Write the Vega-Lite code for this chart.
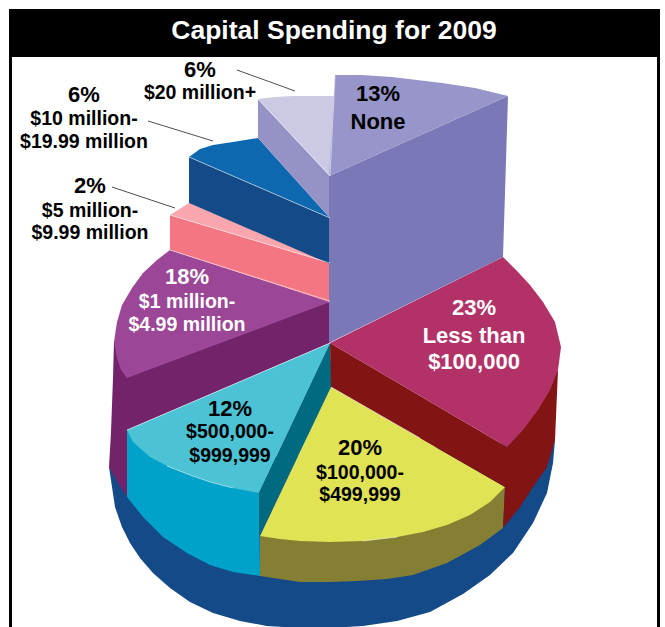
{
  "$schema": "https://vega.github.io/schema/vega-lite/v6.json",
  "width": 665,
  "height": 627,
  "autosize": {"type": "fit", "contains": "padding"},
  "padding": 0,
  "background": "#ffffff",
  "view": {"stroke": null},
  "resolve": {"scale": {"color": "independent"}},
  "datasets": {
    "frame": [
      {"part": "title bar", "x": 9, "x2": 660, "y": 9, "y2": 57},
      {"part": "left rule", "x": 9, "x2": 12, "y": 57, "y2": 627},
      {"part": "right rule", "x": 657, "x2": 660, "y": 57, "y2": 627}
    ],
    "outlines": [
      {"face":"base","i":0,"x":109,"y":467},{"face":"base","i":1,"x":112,"y":487},{"face":"base","i":2,"x":115,"y":507},{"face":"base","i":3,"x":122,"y":527},{"face":"base","i":4,"x":130,"y":543},{"face":"base","i":5,"x":140,"y":558},{"face":"base","i":6,"x":153,"y":573},{"face":"base","i":7,"x":170,"y":588},{"face":"base","i":8,"x":190,"y":602},{"face":"base","i":9,"x":213,"y":613},{"face":"base","i":10,"x":240,"y":621},{"face":"base","i":11,"x":267,"y":626},{"face":"base","i":12,"x":300,"y":628},{"face":"base","i":13,"x":330,"y":628},{"face":"base","i":14,"x":363,"y":626},{"face":"base","i":15,"x":397,"y":621},{"face":"base","i":16,"x":430,"y":612},{"face":"base","i":17,"x":463,"y":594},{"face":"base","i":18,"x":490,"y":575},{"face":"base","i":19,"x":513,"y":553},{"face":"base","i":20,"x":533,"y":523},{"face":"base","i":21,"x":547,"y":493},{"face":"base","i":22,"x":553,"y":463},{"face":"base","i":23,"x":555,"y":440},

      {"face":"purple side","i":0,"x":330,"y":302},{"face":"purple side","i":1,"x":114,"y":342},{"face":"purple side","i":2,"x":113,"y":378},{"face":"purple side","i":3,"x":111,"y":432},{"face":"purple side","i":4,"x":109,"y":467},{"face":"purple side","i":5,"x":118,"y":483},{"face":"purple side","i":6,"x":127,"y":497},{"face":"purple side","i":7,"x":127,"y":430},{"face":"purple side","i":8,"x":330,"y":343},
      {"face":"purple top","i":0,"x":170,"y":250},{"face":"purple top","i":1,"x":157,"y":260},{"face":"purple top","i":2,"x":143,"y":273},{"face":"purple top","i":3,"x":132,"y":288},{"face":"purple top","i":4,"x":122,"y":305},{"face":"purple top","i":5,"x":117,"y":322},{"face":"purple top","i":6,"x":114,"y":342},{"face":"purple top","i":7,"x":117,"y":358},{"face":"purple top","i":8,"x":121,"y":370},{"face":"purple top","i":9,"x":127,"y":378},{"face":"purple top","i":10,"x":330,"y":302},

      {"face":"cyan front","i":0,"x":127,"y":430},{"face":"cyan front","i":1,"x":259,"y":493},{"face":"cyan front","i":2,"x":260,"y":576},{"face":"cyan front","i":3,"x":233,"y":572},{"face":"cyan front","i":4,"x":210,"y":565},{"face":"cyan front","i":5,"x":187,"y":553},{"face":"cyan front","i":6,"x":163,"y":537},{"face":"cyan front","i":7,"x":143,"y":517},{"face":"cyan front","i":8,"x":127,"y":497},
      {"face":"cyan top","i":0,"x":127,"y":430},{"face":"cyan top","i":1,"x":330,"y":343},{"face":"cyan top","i":2,"x":259,"y":493},{"face":"cyan top","i":3,"x":233,"y":488},{"face":"cyan top","i":4,"x":210,"y":482},{"face":"cyan top","i":5,"x":190,"y":475},{"face":"cyan top","i":6,"x":167,"y":466},{"face":"cyan top","i":7,"x":150,"y":457},{"face":"cyan top","i":8,"x":133,"y":442},
      {"face":"teal side","i":0,"x":330,"y":343},{"face":"teal side","i":1,"x":259,"y":493},{"face":"teal side","i":2,"x":259,"y":536},{"face":"teal side","i":3,"x":332,"y":387},

      {"face":"olive side","i":0,"x":260,"y":536},{"face":"olive side","i":1,"x":505,"y":487},{"face":"olive side","i":2,"x":503,"y":528},{"face":"olive side","i":3,"x":480,"y":545},{"face":"olive side","i":4,"x":447,"y":563},{"face":"olive side","i":5,"x":413,"y":575},{"face":"olive side","i":6,"x":387,"y":579},{"face":"olive side","i":7,"x":357,"y":581},{"face":"olive side","i":8,"x":330,"y":582},{"face":"olive side","i":9,"x":300,"y":582},{"face":"olive side","i":10,"x":280,"y":579},{"face":"olive side","i":11,"x":260,"y":576},
      {"face":"yellow top","i":0,"x":331,"y":387},{"face":"yellow top","i":1,"x":505,"y":487},{"face":"yellow top","i":2,"x":490,"y":502},{"face":"yellow top","i":3,"x":470,"y":515},{"face":"yellow top","i":4,"x":447,"y":525},{"face":"yellow top","i":5,"x":423,"y":532},{"face":"yellow top","i":6,"x":397,"y":537},{"face":"yellow top","i":7,"x":363,"y":541},{"face":"yellow top","i":8,"x":330,"y":542},{"face":"yellow top","i":9,"x":300,"y":541},{"face":"yellow top","i":10,"x":280,"y":539},{"face":"yellow top","i":11,"x":260,"y":536},

      {"face":"crimson side","i":0,"x":330,"y":343},{"face":"crimson side","i":1,"x":507,"y":447},{"face":"crimson side","i":2,"x":558,"y":370},{"face":"crimson side","i":3,"x":555,"y":440},{"face":"crimson side","i":4,"x":547,"y":467},{"face":"crimson side","i":5,"x":533,"y":487},{"face":"crimson side","i":6,"x":520,"y":507},{"face":"crimson side","i":7,"x":503,"y":528},{"face":"crimson side","i":8,"x":505,"y":487},{"face":"crimson side","i":9,"x":331,"y":387},
      {"face":"crimson top","i":0,"x":330,"y":343},{"face":"crimson top","i":1,"x":503,"y":257},{"face":"crimson top","i":2,"x":517,"y":271},{"face":"crimson top","i":3,"x":530,"y":285},{"face":"crimson top","i":4,"x":543,"y":302},{"face":"crimson top","i":5,"x":555,"y":322},{"face":"crimson top","i":6,"x":561,"y":347},{"face":"crimson top","i":7,"x":558,"y":370},{"face":"crimson top","i":8,"x":550,"y":390},{"face":"crimson top","i":9,"x":538,"y":410},{"face":"crimson top","i":10,"x":523,"y":430},{"face":"crimson top","i":11,"x":507,"y":447},

      {"face":"pink side","i":0,"x":170,"y":215},{"face":"pink side","i":1,"x":330,"y":263},{"face":"pink side","i":2,"x":330,"y":302},{"face":"pink side","i":3,"x":170,"y":250},
      {"face":"pink top","i":0,"x":189,"y":203},{"face":"pink top","i":1,"x":170,"y":215},{"face":"pink top","i":2,"x":330,"y":263},

      {"face":"navy side","i":0,"x":189,"y":157},{"face":"navy side","i":1,"x":330,"y":218},{"face":"navy side","i":2,"x":330,"y":264},{"face":"navy side","i":3,"x":189,"y":203},
      {"face":"blue top","i":0,"x":258,"y":138},{"face":"blue top","i":1,"x":233,"y":142},{"face":"blue top","i":2,"x":213,"y":145},{"face":"blue top","i":3,"x":200,"y":149},{"face":"blue top","i":4,"x":189,"y":157},{"face":"blue top","i":5,"x":330,"y":218},

      {"face":"lilac side","i":0,"x":258,"y":99},{"face":"lilac side","i":1,"x":330,"y":176},{"face":"lilac side","i":2,"x":330,"y":218},{"face":"lilac side","i":3,"x":258,"y":138},
      {"face":"lilac top","i":0,"x":258,"y":99},{"face":"lilac top","i":1,"x":275,"y":97},{"face":"lilac top","i":2,"x":293,"y":96},{"face":"lilac top","i":3,"x":336,"y":96},{"face":"lilac top","i":4,"x":330,"y":176},

      {"face":"periwinkle side","i":0,"x":508,"y":96},{"face":"periwinkle side","i":1,"x":329,"y":176},{"face":"periwinkle side","i":2,"x":329,"y":343},{"face":"periwinkle side","i":3,"x":503,"y":257},
      {"face":"periwinkle top","i":0,"x":335,"y":75},{"face":"periwinkle top","i":1,"x":362,"y":75},{"face":"periwinkle top","i":2,"x":392,"y":77},{"face":"periwinkle top","i":3,"x":417,"y":80},{"face":"periwinkle top","i":4,"x":442,"y":83},{"face":"periwinkle top","i":5,"x":475,"y":88},{"face":"periwinkle top","i":6,"x":508,"y":96},{"face":"periwinkle top","i":7,"x":329,"y":176}
    ],
    "bevels": [
      {"edge":"pink rim","i":0,"x":170,"y":215},{"edge":"pink rim","i":1,"x":330,"y":263},
      {"edge":"pink foot","i":0,"x":170,"y":250},{"edge":"pink foot","i":1,"x":330,"y":301},
      {"edge":"navy rim","i":0,"x":189,"y":157},{"edge":"navy rim","i":1,"x":330,"y":218},
      {"edge":"lilac rim","i":0,"x":258,"y":99},{"edge":"lilac rim","i":1,"x":330,"y":176},
      {"edge":"lilac seam","i":0,"x":335,"y":76},{"edge":"lilac seam","i":1,"x":330,"y":176},
      {"edge":"cyan seam","i":0,"x":127,"y":430},{"edge":"cyan seam","i":1,"x":330,"y":343},
      {"edge":"cyan rim","i":0,"x":167,"y":466},{"edge":"cyan rim","i":1,"x":190,"y":475},{"edge":"cyan rim","i":2,"x":210,"y":482},{"edge":"cyan rim","i":3,"x":233,"y":488},
      {"edge":"yellow rim","i":0,"x":363,"y":541},{"edge":"yellow rim","i":1,"x":397,"y":537},
      {"edge":"yellow seam","i":0,"x":331,"y":387},{"edge":"yellow seam","i":1,"x":420,"y":438}
    ],
    "leaders": [
      {"slice":"$20 million+","i":0,"x":237,"y":70},{"slice":"$20 million+","i":1,"x":295,"y":91},
      {"slice":"$10 million-$19.99 million","i":0,"x":148,"y":121},{"slice":"$10 million-$19.99 million","i":1,"x":213,"y":141},
      {"slice":"$5 million-$9.99 million","i":0,"x":112,"y":187},{"slice":"$5 million-$9.99 million","i":1,"x":175,"y":208}
    ],
    "shares": [
      {"share":0.06,"x":200,"y":70,"tone":"dark"},
      {"share":0.06,"x":84,"y":95,"tone":"dark"},
      {"share":0.02,"x":90,"y":186,"tone":"dark"},
      {"share":0.18,"x":187,"y":277,"tone":"light"},
      {"share":0.13,"x":378,"y":94,"tone":"dark"},
      {"share":0.23,"x":474,"y":308,"tone":"light"},
      {"share":0.12,"x":230,"y":409,"tone":"dark"},
      {"share":0.20,"x":360,"y":448,"tone":"dark"}
    ],
    "ranges": [
      {"text":"$20 million+","x":200,"y":93,"tone":"dark"},
      {"text":"$10 million-","x":84,"y":119,"tone":"dark"},
      {"text":"$19.99 million","x":84,"y":142,"tone":"dark"},
      {"text":"$5 million-","x":90,"y":211,"tone":"dark"},
      {"text":"$9.99 million","x":90,"y":233,"tone":"dark"},
      {"text":"$1 million-","x":187,"y":302,"tone":"light"},
      {"text":"$4.99 million","x":187,"y":325,"tone":"light"},
      {"text":"$500,000-","x":230,"y":432,"tone":"dark"},
      {"text":"$999,999","x":230,"y":456,"tone":"dark"},
      {"text":"$100,000-","x":360,"y":473,"tone":"dark"},
      {"text":"$499,999","x":360,"y":495,"tone":"dark"}
    ],
    "largeRanges": [
      {"text":"None","x":378,"y":122,"tone":"dark"},
      {"text":"Less than","x":474,"y":336,"tone":"light"},
      {"text":"$100,000","x":474,"y":362,"tone":"light"}
    ],
    "heading": [
      {"text":"Capital Spending for 2009","x":334,"y":31,"tone":"light"}
    ]
  },
  "encoding": {
    "x": {"field":"x","type":"quantitative","scale":{"domain":[0,665],"nice":false,"zero":false},"axis":null},
    "y": {"field":"y","type":"quantitative","scale":{"domain":[627,0],"nice":false,"zero":false},"axis":null}
  },
  "layer": [
    {
      "data": {"name":"frame"},
      "mark": {"type":"rect","color":"#000000"},
      "encoding": {"x2":{"field":"x2"},"y2":{"field":"y2"}}
    },
    {
      "data": {"name":"outlines"},
      "mark": {"type":"line","filled":true,"strokeWidth":0,"clip":true},
      "encoding": {
        "color": {
          "field":"face","type":"nominal","legend":null,
          "scale":{
            "domain":["base","purple side","purple top","cyan front","cyan top","teal side","olive side","yellow top","crimson side","crimson top","pink side","pink top","navy side","blue top","lilac side","lilac top","periwinkle side","periwinkle top"],
            "range":["#134a87","#72236a","#9b4696","#00a2c9","#4bc3d4","#006a80","#857f34","#e0e353","#821414","#b23268","#f47683","#f9a6ae","#134a87","#0e68b0","#9592c6","#cbc9e4","#7b78b7","#9795c9"]
          }
        },
        "order": {"field":"i","type":"quantitative"}
      }
    },
    {
      "data": {"name":"bevels"},
      "mark": {"type":"line","color":"#ffffff","strokeWidth":0.8,"opacity":0.65},
      "encoding": {
        "detail": {"field":"edge"},
        "order": {"field":"i","type":"quantitative"}
      }
    },
    {
      "data": {"name":"leaders"},
      "mark": {"type":"line","color":"#222222","strokeWidth":0.8},
      "encoding": {
        "detail": {"field":"slice"},
        "order": {"field":"i","type":"quantitative"}
      }
    },
    {
      "data": {"name":"heading"},
      "mark": {"type":"text","font":"Liberation Sans","fontWeight":"bold","fontSize":26.5,"baseline":"middle","align":"center","color":"#ffffff"},
      "encoding": {"text":{"field":"text"}}
    },
    {
      "data": {"name":"shares"},
      "mark": {"type":"text","font":"Liberation Sans","fontWeight":"bold","fontSize":22,"baseline":"middle","align":"center"},
      "encoding": {
        "text": {"field":"share","type":"quantitative","format":".0%"},
        "color": {"field":"tone","type":"nominal","legend":null,"scale":{"domain":["dark","light"],"range":["#000000","#ffffff"]}}
      }
    },
    {
      "data": {"name":"ranges"},
      "mark": {"type":"text","font":"Liberation Sans","fontWeight":"bold","fontSize":19.5,"baseline":"middle","align":"center"},
      "encoding": {
        "text": {"field":"text"},
        "color": {"field":"tone","type":"nominal","legend":null,"scale":{"domain":["dark","light"],"range":["#000000","#ffffff"]}}
      }
    },
    {
      "data": {"name":"largeRanges"},
      "mark": {"type":"text","font":"Liberation Sans","fontWeight":"bold","fontSize":22,"baseline":"middle","align":"center"},
      "encoding": {
        "text": {"field":"text"},
        "color": {"field":"tone","type":"nominal","legend":null,"scale":{"domain":["dark","light"],"range":["#000000","#ffffff"]}}
      }
    }
  ]
}
